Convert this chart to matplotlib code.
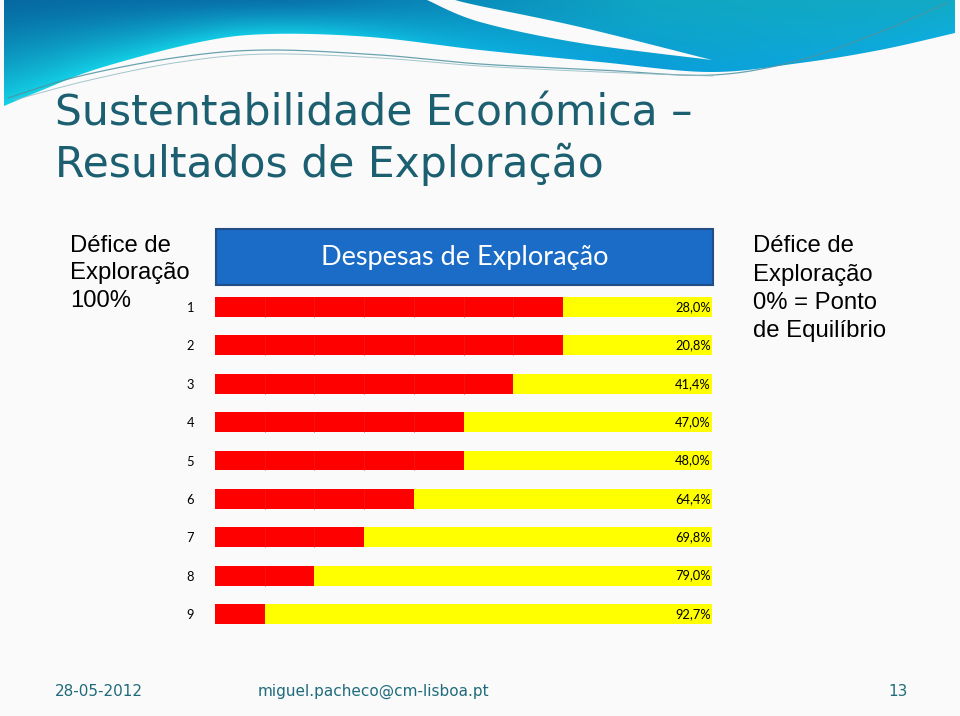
import numpy as np
import matplotlib
matplotlib.use("Agg")
import matplotlib.pyplot as plt
from matplotlib.patches import Rectangle, Polygon
from matplotlib.colors import to_rgb

# ---------------- data ----------------
rows = [1, 2, 3, 4, 5, 6, 7, 8, 9]
despesas = [70, 70, 60, 50, 50, 40, 30, 20, 10]          # red part (%)
defice = [30, 30, 40, 50, 50, 60, 70, 80, 90]            # yellow part (%)
labels = ["28,0%", "20,8%", "41,4%", "47,0%", "48,0%", "64,4%", "69,8%", "79,0%", "92,7%"]

title_lines = ["Sustentabilidade Económica –", "Resultados de Exploração"]
box_title = "Despesas de Exploração"
left_note = ["Défice de", "Exploração", "100%"]
right_note = ["Défice de", "Exploração", "0% = Ponto", "de Equilíbrio"]
footer_date = "28-05-2012"
footer_mail = "miguel.pacheco@cm-lisboa.pt"
footer_page = "13"

BG = "#FAFAFA"
TEAL = "#1C5F70"

W, H = 960, 716
fig = plt.figure(figsize=(W / 100, H / 100), dpi=100, facecolor=BG)

bg = fig.add_axes([0, 0, 1, 1], zorder=0)
bg.set_xlim(0, W)
bg.set_ylim(H, 0)
bg.axis("off")
bg.set_facecolor(BG)


def smooth(pts, n=24):
    pts = np.asarray(pts, float)
    P = np.vstack([pts[0], pts, pts[-1]])
    out = []
    for i in range(1, len(P) - 2):
        p0, p1, p2, p3 = P[i - 1], P[i], P[i + 1], P[i + 2]
        for t in np.linspace(0, 1, n, endpoint=False):
            t2, t3 = t * t, t * t * t
            out.append(0.5 * ((2 * p1) + (-p0 + p2) * t + (2 * p0 - 5 * p1 + 4 * p2 - p3) * t2
                              + (-p0 + 3 * p1 - 3 * p2 + p3) * t3))
    out.append(P[-2])
    return np.array(out)


# ---------------- header swoosh ----------------
lower = smooth([(4, 106), (40, 91), (100, 68), (200, 42), (270, 34), (370, 37), (480, 50),
                (600, 62), (710, 72), (800, 63), (880, 50), (955, 33)])
outer = np.vstack([[(4, 0), (955, 0)], lower[::-1]])
patch = Polygon(outer, closed=True, facecolor="none", edgecolor="none")
bg.add_patch(patch)

gh = 110
xs = np.arange(W) + 0.5
ys = np.arange(gh) + 0.5
bnd = np.interp(xs, lower[:, 0], lower[:, 1])
t = np.clip(ys[:, None] / bnd[None, :], 0, 1) ** 1.3
tx = np.array([0, 300, 480, 650, 960])
top_cols = np.array([to_rgb(c) for c in ["#066AA2", "#0874AC", "#0A8EBC", "#0FA6C4", "#12AAC6"]])
bot_cols = np.array([to_rgb(c) for c in ["#14D2E6", "#12C8E2", "#0CB0DE", "#0A9EDA", "#0EAEDE"]])
top = np.stack([np.interp(xs, tx, top_cols[:, k]) for k in range(3)], axis=-1)
bot = np.stack([np.interp(xs, tx, bot_cols[:, k]) for k in range(3)], axis=-1)
img = top[None, :, :] * (1 - t[..., None]) + bot[None, :, :] * t[..., None]
im = bg.imshow(img, extent=(0, W, gh, 0), origin="upper", aspect="auto", zorder=1,
               interpolation="bilinear")
im.set_clip_path(patch)

up = smooth([(455, 0), (480, 6), (580, 27), (712, 60)])
lo = smooth([(427, 0), (480, 22), (580, 43), (712, 60)])
stripe = np.vstack([up, lo[::-1]])
bg.add_patch(Polygon(stripe, closed=True, facecolor=BG, edgecolor="none", zorder=2))

l1 = smooth([(8, 98), (80, 76), (180, 57), (267, 50), (380, 55), (480, 64), (600, 70),
             (713, 75), (800, 60), (880, 32), (947, 3)])
bg.plot(l1[:, 0], l1[:, 1], color="#4F93A2", lw=0.9, alpha=0.85, zorder=3)
l2 = smooth([(14, 100), (90, 80), (180, 62), (267, 54), (380, 58), (480, 66), (600, 72), (713, 76)])
bg.plot(l2[:, 0], l2[:, 1], color="#8DB7C0", lw=0.7, alpha=0.8, zorder=3)

# ---------------- texts ----------------
bg.text(55, 125, title_lines[0], fontsize=30.6, color=TEAL, family="DejaVu Sans",
        va="baseline", ha="left", zorder=4)
bg.text(55, 177, title_lines[1], fontsize=30.6, color=TEAL, family="DejaVu Sans",
        va="baseline", ha="left", zorder=4)

for k, s in enumerate(left_note):
    bg.text(70, 252 + 27.5 * k, s, fontsize=17.2, color="black", family="Liberation Sans",
            va="baseline", ha="left", zorder=4)
for k, s in enumerate(right_note):
    bg.text(753, 252 + 28.5 * k, s, fontsize=17.2, color="black", family="Liberation Sans",
            va="baseline", ha="left", zorder=4)

bg.add_patch(Rectangle((216, 229), 497, 56, facecolor="#1A6CC6", edgecolor="#234E85", lw=1.5, zorder=4))
bg.text(465, 258, box_title, fontsize=19.5, color="white", family="Lato",
        va="center", ha="center", zorder=5)

bg.text(55, 691, footer_date, fontsize=11, color="#1F6B7B", family="DejaVu Sans",
        va="center", ha="left", zorder=4)
bg.text(258, 691, footer_mail, fontsize=11, color="#1F6B7B", family="DejaVu Sans",
        va="center", ha="left", zorder=4)
bg.text(908, 691, footer_page, fontsize=11, color="#1F6B7B", family="DejaVu Sans",
        va="center", ha="right", zorder=4)

# ---------------- bar chart ----------------
y_top, y_bot = 287.8, 633.2
ax = fig.add_axes([215 / W, 1 - y_bot / H, (712 - 215) / W, (y_bot - y_top) / H], zorder=5)
ax.set_facecolor("none")
h = 0.52
ax.barh(rows, despesas, height=h, color="#FF0000", linewidth=0, zorder=2)
ax.barh(rows, defice, left=despesas, height=h, color="#FFFF00", linewidth=0, zorder=2)
for r, red in zip(rows, despesas):
    for g in range(10, red, 10):
        ax.vlines(g, r - h / 2, r + h / 2, color="#EE1818", lw=0.6, zorder=3)
for r, lab in zip(rows, labels):
    ax.text(99.8, r, lab, ha="right", va="center", fontsize=9.3, family="Lato",
            color="black", zorder=4)
ax.set_xlim(0, 100)
ax.set_ylim(9.5, 0.5)
ax.set_yticks(rows)
ax.set_yticklabels([str(r) for r in rows], fontsize=9.3, family="Lato")
ax.tick_params(axis="y", length=0, pad=15)
ax.set_xticks([])
for sp in ax.spines.values():
    sp.set_visible(False)

fig.savefig("out.png", dpi=100, facecolor=BG)
